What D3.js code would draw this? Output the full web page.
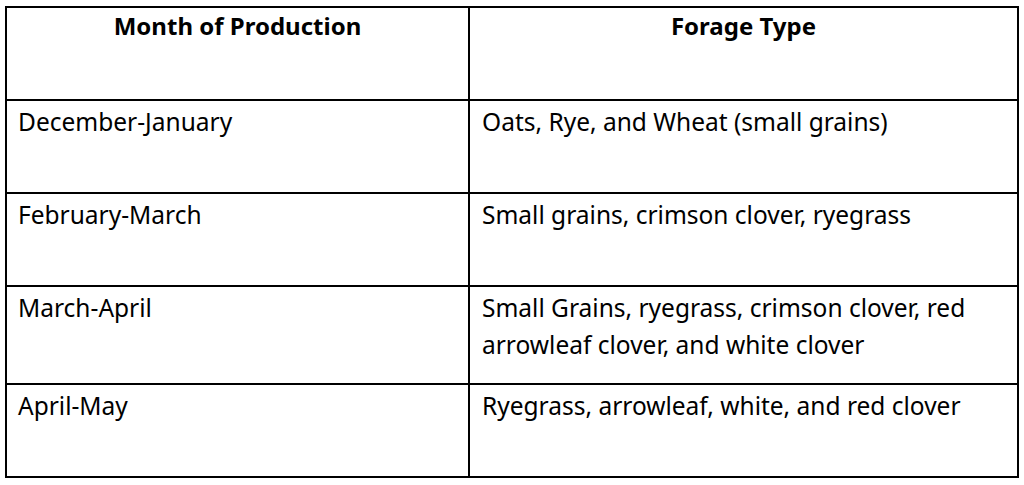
<!DOCTYPE html><html><head><meta charset="utf-8"><script src="https://cdn.jsdelivr.net/npm/d3@7"></script>
<style>body{margin:0;background:#fff}</style></head><body><svg id="c" width="1024" height="485"></svg>
<script>
const headers=["Month of Production","Forage Type"];
const months=["December-January","February-March","March-April","April-May"];
const forages=[["Oats, Rye, and Wheat (small grains)"],["Small grains, crimson clover, ryegrass"],["Small Grains, ryegrass, crimson clover, red","arrowleaf clover, and white clover"],["Ryegrass, arrowleaf, white, and red clover"]];
const svg=d3.select("#c");
const rowEdges=[7,100,193,286,384,477];
const x=d3.scaleOrdinal().domain([0,1,2]).range([6,469,1018]);
const font="'Noto Sans', sans-serif";
svg.append("rect").attr("x",6).attr("y",7).attr("width",1012).attr("height",470).attr("fill","none").attr("stroke","#000").attr("stroke-width",2);
svg.append("line").attr("x1",469).attr("x2",469).attr("y1",7).attr("y2",477).attr("stroke","#000").attr("stroke-width",2);
svg.selectAll("line.r").data(rowEdges.slice(1,-1)).enter().append("line").attr("x1",6).attr("x2",1018).attr("y1",d=>d).attr("y2",d=>d).attr("stroke","#000").attr("stroke-width",2);
svg.selectAll("text.h").data(headers).enter().append("text").attr("x",(d,i)=>(x(i)+x(i+1))/2).attr("y",35).attr("text-anchor","middle").attr("font-family",font).attr("font-weight","bold").attr("font-size",24).text(d=>d);
svg.selectAll("text.m").data(months).enter().append("text").attr("x",18).attr("y",(d,i)=>rowEdges[i+1]+31).attr("font-family",font).attr("font-size",24.5).text(d=>d);
forages.forEach((lines,i)=>{lines.forEach((t,j)=>{svg.append("text").attr("x",482).attr("y",rowEdges[i+1]+31+j*37).attr("font-family",font).attr("font-size",24.5).text(t);});});
</script></body></html>
